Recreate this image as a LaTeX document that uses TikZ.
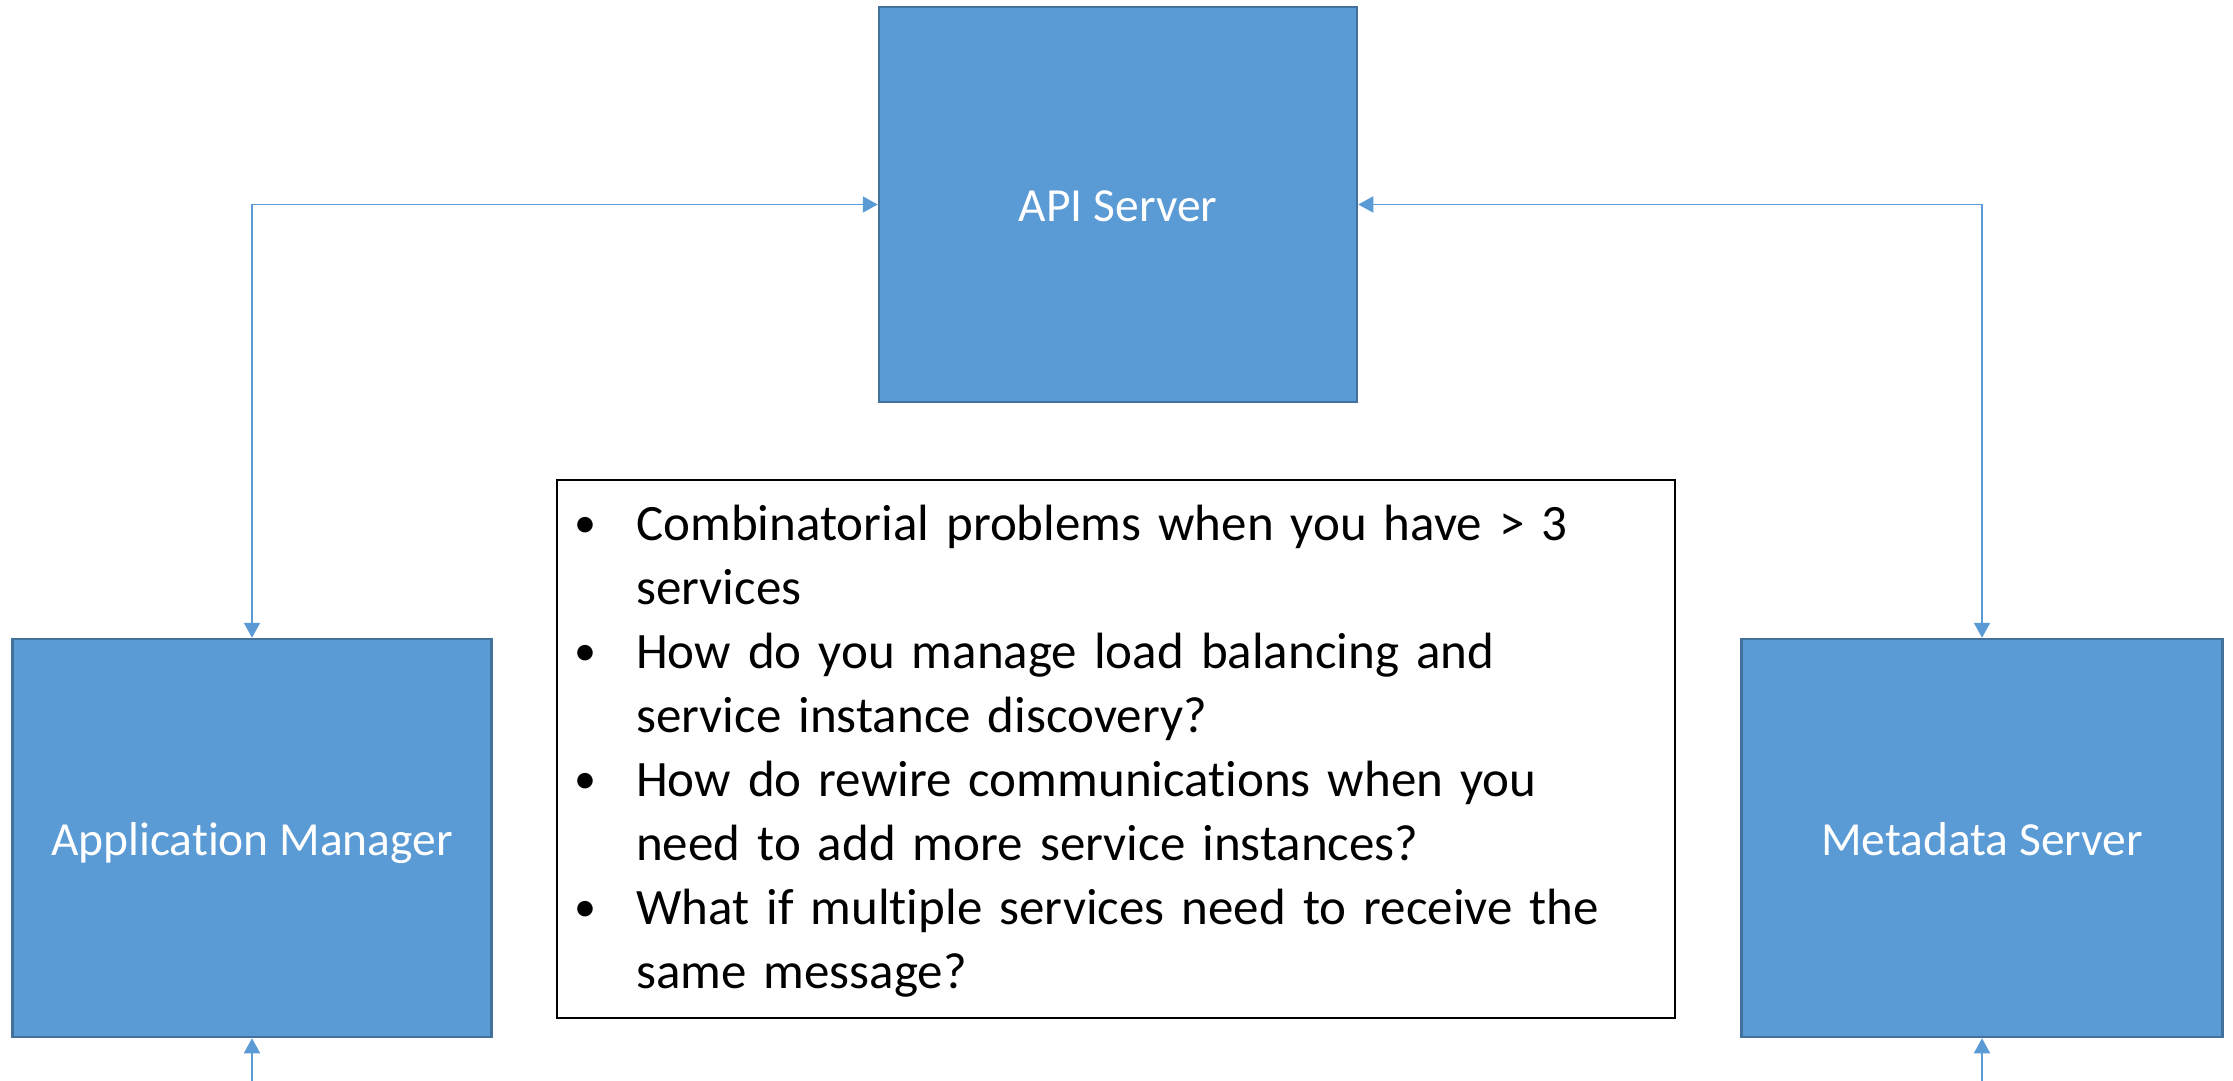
\documentclass[tikz,border=0pt]{standalone}
\usepackage{fontspec}
\setmainfont{Carlito}[Ligatures=NoCommon]
\usetikzlibrary{arrows.meta}
\definecolor{boxfill}{HTML}{5B9BD5}
\definecolor{boxline}{HTML}{41719C}
\definecolor{conncol}{HTML}{5B9BD5}
\begin{document}
\begin{tikzpicture}[x=1pt,y=-1pt,
  svc/.style={draw=boxline, fill=boxfill, line width=2.5pt, inner sep=0pt,
    text=white, font=\fontsize{47.5}{56}\selectfont, text height=34pt, text depth=0pt},
  conn/.style={draw=conncol, line width=1.8pt,
    arrows={-Triangle[length=15pt,width=16pt]}},
  conn2/.style={draw=conncol, line width=1.8pt,
    arrows={Triangle[length=15pt,width=16pt]-Triangle[length=15pt,width=16pt]}},
  note/.style={draw=black, line width=2.5pt, fill=white, inner sep=0pt},
  bul/.style={anchor=base west, inner sep=0pt, font=\fontsize{44}{64}\selectfont},
  item/.style={anchor=base west, inner sep=0pt, align=left, text width=1030pt,
    font=\fontsize{51}{64}\selectfont}
]
\useasboundingbox (0,0) rectangle (2233,1081);
\node[svc, minimum width=478pt, minimum height=395pt] (api) at (1118,204.5) {API Server};
\node[svc, minimum width=479pt, minimum height=398pt] (am) at (252,838) {Application Manager};
\node[svc, minimum width=481pt, minimum height=398pt] (ms) at (1982,838) {Metadata Server};
\node[note, minimum width=1118pt, minimum height=538pt] (notes) at (1116,749) {};
\node[bul] (b1) at (574,537) {•};
\node[bul] (b2) at (574,665) {•};
\node[bul] (b3) at (574,793) {•};
\node[bul] (b4) at (574,921) {•};
\node[item] (t1) at (636,540) {Combinatorial problems when you have > 3\\services};
\node[item] (t2) at (636,668) {How do you manage load balancing and\\service instance discovery?};
\node[item] (t3) at (636,796) {How do rewire communications when you\\need to add more service instances?};
\node[item] (t4) at (636,924) {What if multiple services need to receive the\\same message?};
\coordinate (amin) at (252,1081);
\coordinate (msin) at (1982,1081);
\draw[conn2] (api.west) -| (am.north);
\draw[conn2] (api.east) -| (ms.north);
\draw[conn] (amin) -- (am.south);
\draw[conn] (msin) -- (ms.south);
\end{tikzpicture}
\end{document}
